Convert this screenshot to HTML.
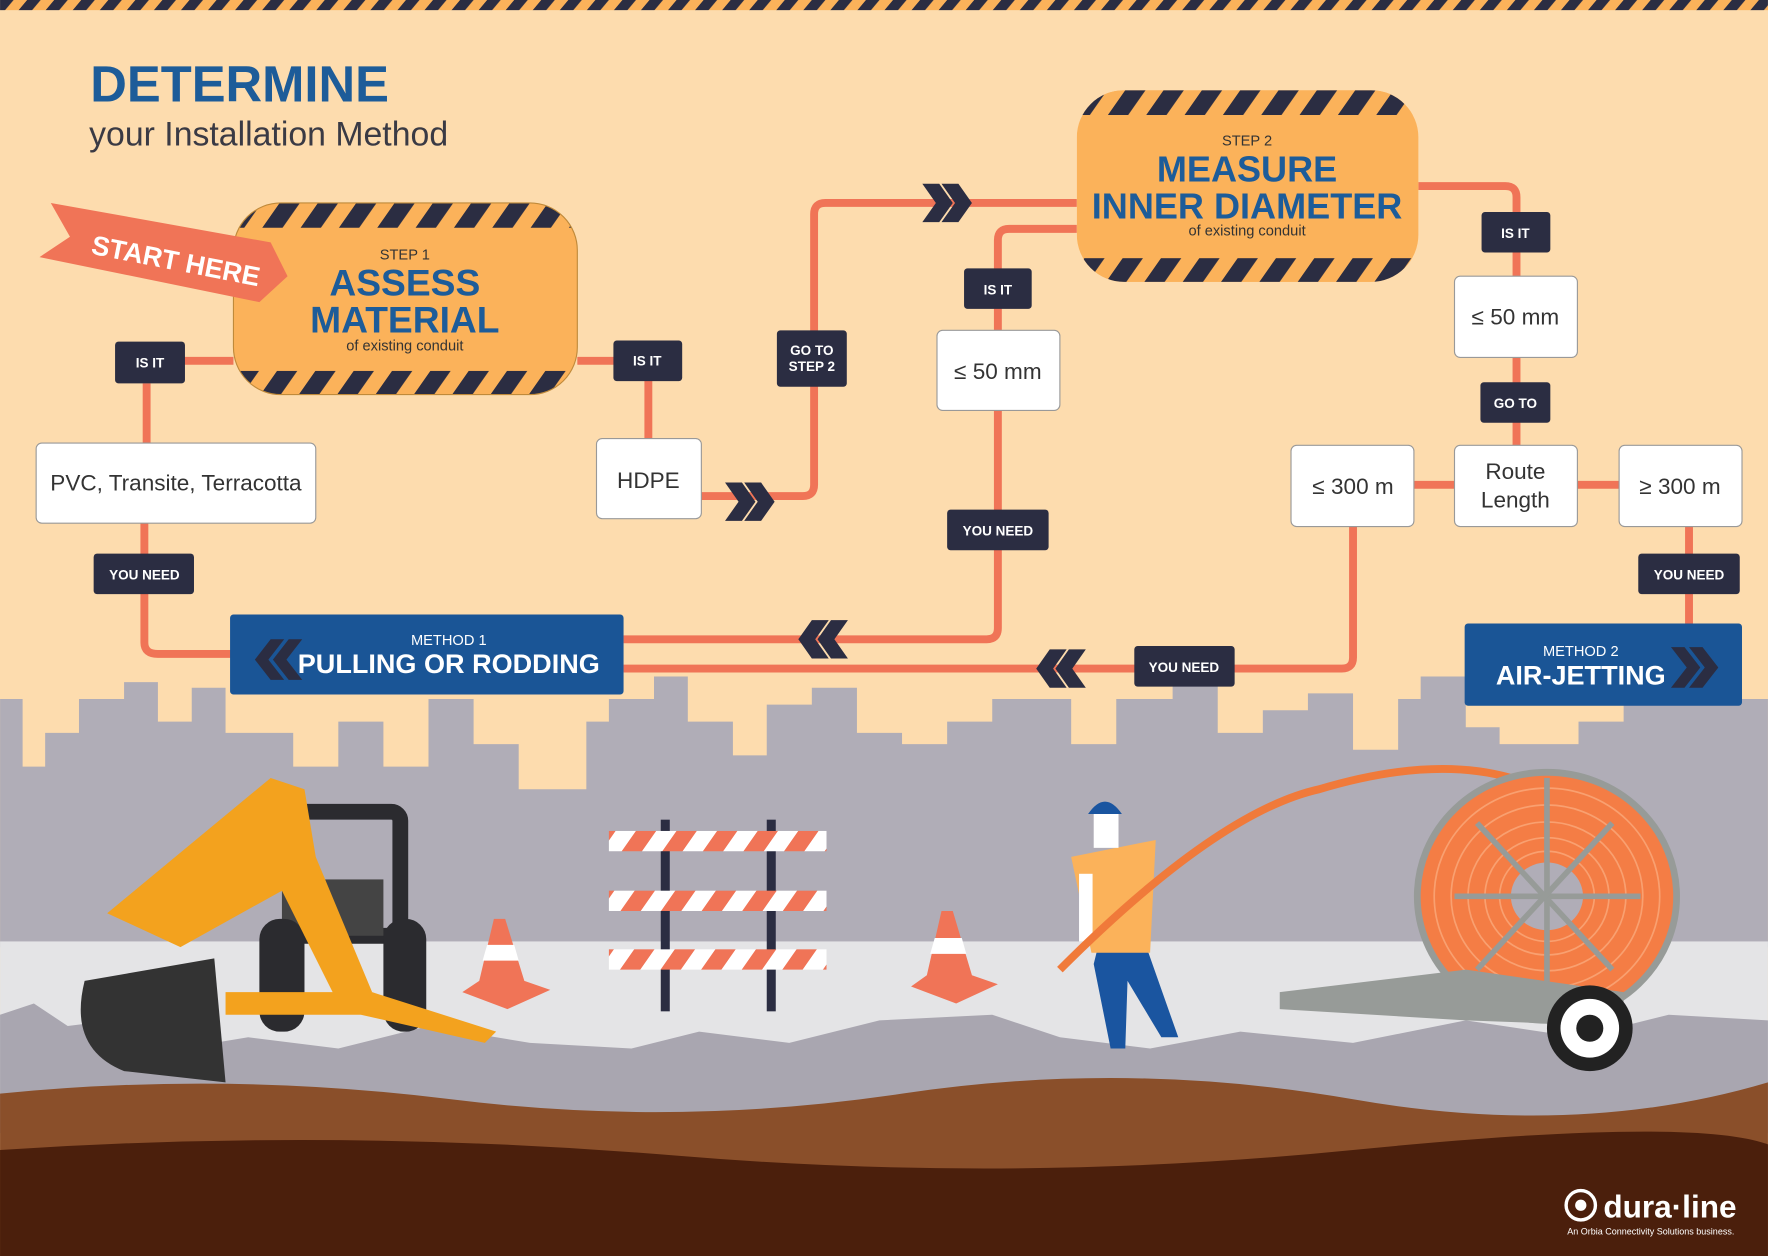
<!DOCTYPE html>
<html><head><meta charset="utf-8"><style>
html,body{margin:0;padding:0;background:#fddcae;}
svg{display:block}
text{font-family:"Liberation Sans",sans-serif;}
</style></head><body>
<svg width="1768" height="1256" viewBox="0 0 1568 1114" xmlns="http://www.w3.org/2000/svg">
<defs>
<pattern id="haz" width="34" height="34" patternUnits="userSpaceOnUse" patternTransform="skewX(-35)">
<rect width="34" height="34" fill="#fbb25a"/><rect x="0" width="18" height="34" fill="#2b2d42"/>
</pattern>
<pattern id="haz2" width="24" height="10" patternUnits="userSpaceOnUse" patternTransform="skewX(-40)">
<rect width="24" height="10" fill="#fbb25a"/><rect width="12" height="10" fill="#2b2d42"/>
</pattern>
<pattern id="bar" width="36" height="20" patternUnits="userSpaceOnUse" patternTransform="skewX(-35)">
<rect width="36" height="20" fill="#fff"/><rect width="18" height="20" fill="#f07457"/>
</pattern>
<clipPath id="c1"><rect x="207" y="180" width="305" height="170" rx="42"/></clipPath>
<clipPath id="c2"><rect x="955" y="80" width="303" height="170" rx="42"/></clipPath>
</defs>
<rect width="1568" height="1114" fill="#fddcae"/>
<rect width="1568" height="9" fill="url(#haz2)"/>

<text x="80" y="90" font-size="45" font-weight="bold" fill="#1d5c99">DETERMINE</text>
<text x="79" y="129" font-size="30" fill="#3a3a44">your Installation Method</text>

<path d="M0 620 L20 620 L20 680 L40 680 L40 650 L70 650 L70 620 L110 620 L110 605 L140 605 L140 640 L170 640 L170 610 L200 610 L200 650 L260 650 L260 680 L300 680 L300 640 L340 640 L340 680 L380 680 L380 620 L420 620 L420 660 L460 660 L460 700 L520 700 L520 640 L540 640 L540 620 L580 620 L580 600 L610 600 L610 640 L650 640 L650 670 L680 670 L680 625 L720 625 L720 610 L760 610 L760 650 L800 650 L800 660 L840 660 L840 640 L880 640 L880 620 L950 620 L950 660 L990 660 L990 620 L1040 620 L1040 600 L1080 600 L1080 650 L1120 650 L1120 630 L1160 630 L1160 615 L1200 615 L1200 665 L1240 665 L1240 620 L1260 620 L1260 600 L1300 600 L1300 645 L1330 645 L1330 660 L1400 660 L1400 640 L1440 640 L1440 620 L1568 620 L1568 840 L0 840Z" fill="#b0adb7"/>
<rect x="0" y="835" width="1568" height="130" fill="#e4e4e6"/>
<path d="M0 900 L30 890 L60 910 L100 905 L160 930 L220 920 L300 930 L380 910 L470 925 L560 930 L620 915 L700 925 L780 905 L880 900 L940 920 L1020 930 L1100 915 L1200 925 L1300 905 L1400 920 L1480 900 L1568 905 L1568 1005 L0 1005Z" fill="#a9a6b0"/>
<path d="M0 970 Q200 950 400 975 T800 970 T1200 975 T1568 960 L1568 1114 L0 1114Z" fill="#8a4f2a"/>
<path d="M0 1020 Q300 1000 600 1025 T1200 1020 T1568 1015 L1568 1114 L0 1114Z" fill="#4b1f0c"/>

<rect x="260" y="720" width="95" height="110" rx="8" fill="none" stroke="#2b2b2f" stroke-width="14"/>
<rect x="250" y="780" width="90" height="50" fill="#444"/>
<rect x="230" y="815" width="40" height="100" rx="18" fill="#2b2b2f"/>
<rect x="340" y="815" width="38" height="100" rx="18" fill="#2b2b2f"/>
<path d="M95 810 L240 690 L270 700 L280 760 L330 880 L300 890 L250 790 L160 840Z" fill="#f3a21e"/>
<path d="M200 880 L330 880 L440 915 L430 925 L320 900 L200 900Z" fill="#f3a21e"/>
<path d="M75 870 Q60 930 110 950 L200 960 L190 850 Z" fill="#333"/>
<rect x="586" y="727" width="8" height="170" fill="#2b2d42"/>
<rect x="680" y="727" width="8" height="170" fill="#2b2d42"/>
<rect x="540" y="737" width="193" height="18" fill="url(#bar)"/>
<rect x="540" y="790" width="193" height="18" fill="url(#bar)"/>
<rect x="540" y="842" width="193" height="18" fill="url(#bar)"/>
<path d="M410 880 L450 895 L488 878 L465 870 L448 815 L438 815 L425 870Z" fill="#f07457"/>
<path d="M432 838 L456 838 L460 852 L428 852Z" fill="#fff"/>
<path d="M808 875 L848 890 L885 873 L862 865 L845 808 L835 808 L822 865Z" fill="#f07457"/>
<path d="M829 832 L853 832 L857 846 L825 846Z" fill="#fff"/>
<path d="M970 855 L985 930 L998 930 L1000 870 L1030 920 L1045 920 L1015 835 L975 835Z" fill="#1a55a0"/>
<path d="M950 760 L1025 745 L1020 845 L968 845Z" fill="#fbb25a"/>
<rect x="957" y="775" width="12" height="60" fill="#fff"/>
<rect x="970" y="720" width="22" height="32" fill="#fff"/>
<path d="M965 722 Q980 700 995 722Z" fill="#1a55a0"/>
<path d="M940 860 Q1080 720 1170 700 Q1270 670 1340 690" fill="none" stroke="#f07a3a" stroke-width="7"/>
<ellipse cx="1372" cy="795" rx="115" ry="110" fill="#f47d45" stroke="#979b98" stroke-width="6"/>
<g fill="none" stroke="#f9a070" stroke-width="1.5"><ellipse cx="1372" cy="795" rx="100" ry="96"/><ellipse cx="1372" cy="795" rx="85" ry="81"/><ellipse cx="1372" cy="795" rx="70" ry="66"/><ellipse cx="1372" cy="795" rx="55" ry="52"/><ellipse cx="1372" cy="795" rx="42" ry="40"/></g>
<ellipse cx="1372" cy="795" rx="32" ry="30" fill="#b0adb7"/>
<g stroke="#979b98" stroke-width="5"><line x1="1290" y1="795" x2="1455" y2="795"/><line x1="1372" y1="690" x2="1372" y2="900"/><line x1="1310" y1="730" x2="1430" y2="860"/><line x1="1430" y1="730" x2="1310" y2="860"/></g>
<path d="M1135 880 L1300 860 L1440 880 L1440 910 L1300 905 L1135 895Z" fill="#979b98"/>
<circle cx="1410" cy="912" r="38" fill="#222"/><circle cx="1410" cy="912" r="26" fill="#fff"/><circle cx="1410" cy="912" r="12" fill="#222"/>

<g fill="none" stroke="#f07457" stroke-width="7" stroke-linejoin="round">
<path d="M132 320 L207 320"/><path d="M130 340 L130 393"/>
<path d="M128 464 L128 570 Q128 580 140 580 L205 580"/>
<path d="M512 320 L575 320 L575 390"/>
<path d="M622 440 L712 440 Q722 440 722 430 L722 190 Q722 180 732 180 L955 180"/>
<path d="M955 203 L895 203 Q885 203 885 213 L885 293"/>
<path d="M885 364 L885 557 Q885 567 875 567 L553 567"/>
<path d="M1258 165 L1335 165 Q1345 165 1345 175 L1345 395"/>
<path d="M1254 430 L1290 430"/><path d="M1399 430 L1436 430"/>
<path d="M1200 467 L1200 583 Q1200 593 1190 593 L553 593"/>
<path d="M1498 467 L1498 553"/>
</g>
<g fill="#2b2d42">
<path d="M643 428 L658 428 L670 445 L658 462 L643 462 L655 445Z"/><path d="M660 428 L675 428 L687 445 L675 462 L660 462 L672 445Z"/>
<path d="M818 163 L833 163 L845 180 L833 197 L818 197 L830 180Z"/><path d="M835 163 L850 163 L862 180 L850 197 L835 197 L847 180Z"/>
<path d="M752 550 L737 550 L725 567 L737 584 L752 584 L740 567Z"/><path d="M735 550 L720 550 L708 567 L720 584 L735 584 L723 567Z"/>
<path d="M963 576 L948 576 L936 593 L948 610 L963 610 L951 593Z"/><path d="M946 576 L931 576 L919 593 L931 610 L946 610 L934 593Z"/>
</g>

<g clip-path="url(#c1)"><rect x="207" y="180" width="305" height="170" fill="#fbb25a"/><rect x="207" y="180" width="305" height="22" fill="url(#haz)"/><rect x="207" y="329" width="305" height="22" fill="url(#haz)"/></g>
<rect x="207" y="180" width="305" height="170" rx="42" fill="none" stroke="#c08a3a" stroke-width="1"/>
<text x="359" y="230" font-size="13" fill="#333" text-anchor="middle">STEP 1</text>
<text x="359" y="262" font-size="33" font-weight="bold" fill="#1d5c99" text-anchor="middle">ASSESS</text>
<text x="359" y="295" font-size="33" font-weight="bold" fill="#1d5c99" text-anchor="middle">MATERIAL</text>
<text x="359" y="311" font-size="13" fill="#333" text-anchor="middle">of existing conduit</text>

<g clip-path="url(#c2)"><rect x="955" y="80" width="303" height="170" fill="#fbb25a"/><rect x="955" y="80" width="303" height="22" fill="url(#haz)"/><rect x="955" y="229" width="303" height="22" fill="url(#haz)"/></g>
<text x="1106" y="129" font-size="13" fill="#333" text-anchor="middle">STEP 2</text>
<text x="1106" y="161" font-size="32" font-weight="bold" fill="#1d5c99" text-anchor="middle">MEASURE</text>
<text x="1106" y="194" font-size="32" font-weight="bold" fill="#1d5c99" text-anchor="middle">INNER DIAMETER</text>
<text x="1106" y="209" font-size="13" fill="#333" text-anchor="middle">of existing conduit</text>

<path d="M45 180 L240 215 L255 245 L230 268 L35 228 L62 210Z" fill="#f07457"/>
<text x="80" y="225" font-size="24" font-weight="bold" fill="#fff" transform="rotate(11 80 225)">START HERE</text>

<g fill="#fff" stroke="#999" stroke-width="1">
<rect x="32" y="393" width="248" height="71" rx="5"/>
<rect x="529" y="389" width="93" height="71" rx="5"/>
<rect x="831" y="293" width="109" height="71" rx="5"/>
<rect x="1290" y="245" width="109" height="72" rx="5"/>
<rect x="1145" y="395" width="109" height="72" rx="5"/>
<rect x="1290" y="395" width="109" height="72" rx="5"/>
<rect x="1436" y="395" width="109" height="72" rx="5"/>
</g>
<g font-size="20" fill="#333" text-anchor="middle">
<text x="156" y="435">PVC, Transite, Terracotta</text>
<text x="575" y="433">HDPE</text>
<text x="885" y="336">≤ 50 mm</text>
<text x="1344" y="288">≤ 50 mm</text>
<text x="1200" y="438">≤ 300 m</text>
<text x="1344" y="425">Route</text><text x="1344" y="450">Length</text>
<text x="1490" y="438">≥ 300 m</text>
</g>

<g fill="#2b2d42">
<rect x="102" y="303" width="62" height="37" rx="3"/>
<rect x="544" y="302" width="61" height="36" rx="3"/>
<rect x="689" y="293" width="62" height="50" rx="3"/>
<rect x="855" y="238" width="60" height="36" rx="3"/>
<rect x="1314" y="188" width="61" height="36" rx="3"/>
<rect x="1313" y="339" width="62" height="36" rx="3"/>
<rect x="83" y="491" width="89" height="36" rx="3"/>
<rect x="840" y="452" width="90" height="36" rx="3"/>
<rect x="1006" y="573" width="89" height="36" rx="3"/>
<rect x="1453" y="491" width="90" height="36" rx="3"/>
</g>
<g font-size="12" font-weight="bold" fill="#fff" text-anchor="middle">
<text x="133" y="326">IS IT</text>
<text x="574" y="324">IS IT</text>
<text x="720" y="315">GO TO</text><text x="720" y="329">STEP 2</text>
<text x="885" y="261">IS IT</text>
<text x="1344" y="211">IS IT</text>
<text x="1344" y="362">GO TO</text>
<text x="128" y="514">YOU NEED</text>
<text x="885" y="475">YOU NEED</text>
<text x="1050" y="596">YOU NEED</text>
<text x="1498" y="514">YOU NEED</text>
</g>

<rect x="204" y="545" width="349" height="71" rx="3" fill="#1a5596"/>
<path d="M240 567 L252 567 L238 585 L252 603 L240 603 L226 585Z M256 567 L268 567 L254 585 L268 603 L256 603 L242 585Z" fill="#2b2d42"/>
<text x="398" y="572" font-size="13" fill="#fff" text-anchor="middle">METHOD 1</text>
<text x="398" y="597" font-size="24" font-weight="bold" fill="#fff" text-anchor="middle">PULLING OR RODDING</text>
<rect x="1299" y="553" width="246" height="73" rx="3" fill="#1a5596"/>
<path d="M1482 574 L1494 574 L1508 592 L1494 610 L1482 610 L1496 592Z M1498 574 L1510 574 L1524 592 L1510 610 L1498 610 L1512 592Z" fill="#2b2d42"/>
<text x="1402" y="582" font-size="13" fill="#fff" text-anchor="middle">METHOD 2</text>
<text x="1402" y="607" font-size="24" font-weight="bold" fill="#fff" text-anchor="middle">AIR-JETTING</text>

<circle cx="1402" cy="1069" r="13" fill="none" stroke="#fff" stroke-width="3"/><circle cx="1402" cy="1069" r="5" fill="#fff"/>
<text x="1422" y="1080" font-size="28" font-weight="bold" fill="#fff">dura·line</text>
<text x="1390" y="1095" font-size="8" fill="#fff">An Orbia Connectivity Solutions business.</text>
</svg>
</body></html>
